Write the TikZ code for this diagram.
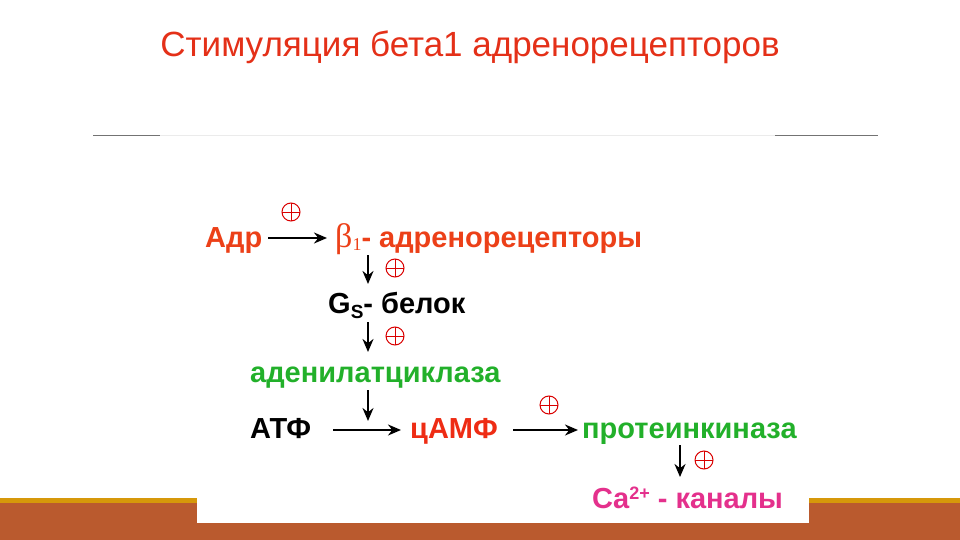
\documentclass[tikz,border=0pt]{standalone}
\usepackage{fontspec}
\setmainfont{Liberation Sans}
\newfontfamily\serifb{Liberation Serif}
\usetikzlibrary{arrows.meta}
\definecolor{titlered}{RGB}{228,48,24}
\definecolor{adrred}{RGB}{236,64,24}
\definecolor{campred}{RGB}{238,44,20}
\definecolor{enzgreen}{RGB}{34,176,42}
\definecolor{capink}{RGB}{228,48,140}
\definecolor{bandbrown}{RGB}{186,90,46}
\definecolor{bandgold}{RGB}{214,152,10}
\begin{document}
\begin{tikzpicture}[x=1pt,y=-1pt,
  lbl/.style={anchor=base west,inner sep=0pt,font=\fontsize{29}{33}\selectfont\bfseries},
  flow/.style={draw=black,line width=2.2pt,-{Stealth[length=13pt,width=11pt]}},
  plusmark/.style={circle,draw=red!85!black,line width=1pt,minimum size=18pt,inner sep=0pt,
    path picture={\draw[red!85!black,line width=1pt]
      (path picture bounding box.north) -- (path picture bounding box.south)
      (path picture bounding box.west) -- (path picture bounding box.east);}}]
\useasboundingbox (0,0) rectangle (960,540);
% bottom band
\fill[bandgold] (0,498) rectangle (960,503);
\fill[bandbrown] (0,503) rectangle (960,540);
\fill[white] (197,480) rectangle (809,523);
% title
\node[anchor=base,inner sep=0pt,text=titlered,font=\fontsize{35}{40}\selectfont] (title) at (470,57) {Стимуляция бета1 адренорецепторов};
% rule
\draw[black!8,line width=1pt] (93,136) -- (878,136);
\draw[black!55,line width=1pt] (93,136) -- (160,136);
\draw[black!55,line width=1pt] (775,136) -- (878,136);
% nodes
\node[lbl,text=adrred] (adr) at (205,247) {Адр};
\node[lbl,text=adrred] (beta) at (335,247) {{\serifb\mdseries\fontsize{34}{38}\selectfont β\raisebox{-3pt}{\fontsize{18}{20}\selectfont 1}}- адренорецепторы};
\node[lbl,text=black] (gs) at (328,313) {G\raisebox{-5pt}{\fontsize{19}{21}\selectfont S}- белок};
\node[lbl,text=enzgreen] (ac) at (250,382) {аденилатциклаза};
\node[lbl,text=black] (atf) at (250,438) {АТФ};
\node[lbl,text=campred] (camp) at (410,438) {цАМФ};
\node[lbl,text=enzgreen] (pk) at (582,438) {протеинкиназа};
\node[lbl,text=capink] (ca) at (592,508) {Ca\raisebox{9pt}{\fontsize{18}{20}\selectfont 2+} - каналы};
% arrows
\coordinate (a1s) at (268,238); \coordinate (a1e) at (327,238);
\draw[flow] (a1s) -- (a1e);
\node[plusmark] (p1) at (291,212) {};
\coordinate (v1s) at (368,255); \coordinate (v1e) at (368,284);
\draw[flow] (v1s) -- (v1e);
\node[plusmark] (p2) at (395,268) {};
\coordinate (v2s) at (368,322); \coordinate (v2e) at (368,352);
\draw[flow] (v2s) -- (v2e);
\node[plusmark] (p3) at (395,336) {};
\coordinate (h1s) at (333,430); \coordinate (h1e) at (401,430);
\draw[flow] (h1s) -- (h1e);
\coordinate (v3s) at (368,390); \coordinate (v3e) at (368,421);
\draw[flow] (v3s) -- (v3e);
\coordinate (h2s) at (513,430); \coordinate (h2e) at (578,430);
\draw[flow] (h2s) -- (h2e);
\node[plusmark] (p4) at (549,405) {};
\coordinate (v4s) at (680,445); \coordinate (v4e) at (680,477);
\draw[flow] (v4s) -- (v4e);
\node[plusmark] (p5) at (704,460) {};
\end{tikzpicture}
\end{document}
